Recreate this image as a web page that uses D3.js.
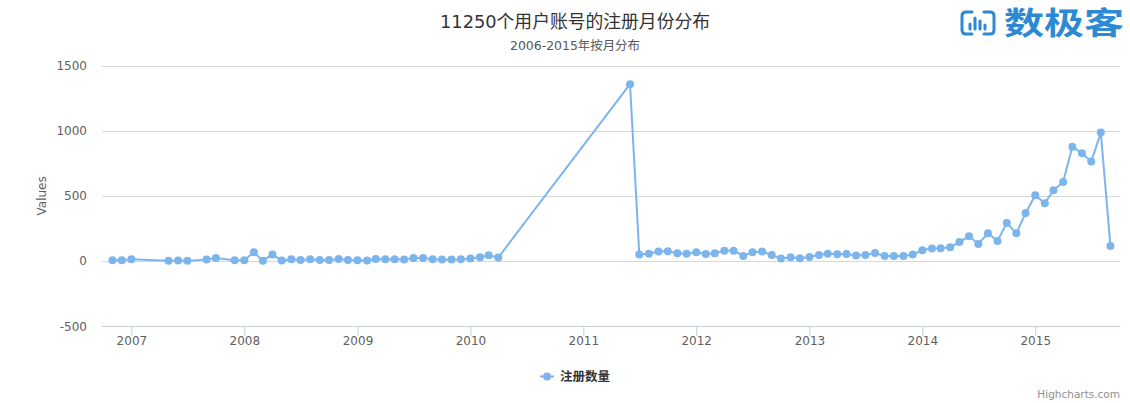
<!DOCTYPE html>
<html>
<head>
<meta charset="utf-8">
<script src="https://cdn.jsdelivr.net/npm/d3@7"></script>
<style>
  html, body { margin: 0; padding: 0; background: #fff; }
  svg { display: block; }
  text { font-family: "DejaVu Sans", "Noto Sans CJK SC", sans-serif; }
</style>
</head>
<body>
<svg id="chart" width="1130" height="403"></svg>
<script>
// ---- data ----
const months = [
  "2006-11","2006-12","2007-01","2007-05","2007-06","2007-07","2007-09","2007-10","2007-12",
  "2008-01","2008-02","2008-03","2008-04","2008-05","2008-06","2008-07","2008-08","2008-09","2008-10","2008-11","2008-12",
  "2009-01","2009-02","2009-03","2009-04","2009-05","2009-06","2009-07","2009-08","2009-09","2009-10","2009-11","2009-12",
  "2010-01","2010-02","2010-03","2010-04",
  "2011-06","2011-07","2011-08","2011-09","2011-10","2011-11","2011-12",
  "2012-01","2012-02","2012-03","2012-04","2012-05","2012-06","2012-07","2012-08","2012-09","2012-10","2012-11","2012-12",
  "2013-01","2013-02","2013-03","2013-04","2013-05","2013-06","2013-07","2013-08","2013-09","2013-10","2013-11","2013-12",
  "2014-01","2014-02","2014-03","2014-04","2014-05","2014-06","2014-07","2014-08","2014-09","2014-10","2014-11","2014-12",
  "2015-01","2015-02","2015-03","2015-04","2015-05","2015-06","2015-07","2015-08","2015-09"
];
const registrations = [
  5,5,13,2,3,2,10,23,5,
  5,67,2,49,4,13,8,13,8,8,15,8,
  5,3,15,13,13,10,23,23,13,10,10,13,
  18,28,44,26,
  1358,49,56,72,74,59,56,
  67,54,59,79,79,38,67,72,46,18,28,20,
  31,46,56,51,54,41,46,61,38,38,38,49,
  82,95,97,105,146,189,131,212,154,292,212,369,
  504,443,543,607,878,827,763,986,115
];
const yTicks = [-500, 0, 500, 1000, 1500];
const yearTicks = ["2007","2008","2009","2010","2011","2012","2013","2014","2015"];
const seriesName = "注册数量";
const titleText = "11250个用户账号的注册月份分布";
const subtitleText = "2006-2015年按月分布";
const yAxisTitle = "Values";

// ---- layout ----
const svg = d3.select("#chart");
const plot = { left: 102, right: 1120, top: 65.7, bottom: 326 };
const parse = d3.timeParse("%Y-%m");
const data = months.map((m, i) => ({ date: parse(m), value: registrations[i] }));

const x = d3.scaleTime()
  .domain([new Date(2006, 8, 28), new Date(2015, 9, 2)])
  .range([plot.left, plot.right]);
const y = d3.scaleLinear()
  .domain([-500, 1500])
  .range([plot.bottom, plot.top]);

// gridlines
svg.append("g").selectAll("line").data(yTicks).join("line")
  .attr("x1", plot.left).attr("x2", plot.right)
  .attr("y1", d => Math.round(y(d)) + 0.5).attr("y2", d => Math.round(y(d)) + 0.5)
  .attr("stroke", "#d8d8d8").attr("stroke-width", 1);

// y labels
svg.append("g").selectAll("text").data(yTicks).join("text")
  .attr("x", 87).attr("y", d => y(d) + 4.5)
  .attr("text-anchor", "end")
  .attr("font-size", 12).attr("fill", "#606060")
  .text(d => d);

svg.append("text")
  .attr("transform", `translate(46,${(plot.top + plot.bottom) / 2}) rotate(-90)`)
  .attr("text-anchor", "middle")
  .attr("font-size", 12).attr("fill", "#606060")
  .text(yAxisTitle);

// x axis
const xAxis = d3.axisBottom(x)
  .tickValues(yearTicks.map(t => d3.timeParse("%Y")(t)))
  .tickFormat(d3.timeFormat("%Y"))
  .tickSize(10).tickSizeOuter(0);
const gx = svg.append("g").attr("transform", `translate(0,${plot.bottom})`).call(xAxis);
gx.select(".domain").attr("stroke", "#c0d0e0");
gx.selectAll(".tick line").attr("stroke", "#c0d0e0");
gx.selectAll(".tick text").attr("font-size", 12).attr("fill", "#606060")
  .attr("font-family", "DejaVu Sans, sans-serif").attr("dy", null).attr("y", 19);

// line
const line = d3.line().x(d => x(d.date)).y(d => y(d.value));
svg.append("path").datum(data)
  .attr("d", line).attr("fill", "none")
  .attr("stroke", "#7cb5ec").attr("stroke-width", 2).attr("stroke-linejoin", "round");
svg.append("g").selectAll("circle").data(data).join("circle")
  .attr("cx", d => x(d.date)).attr("cy", d => y(d.value))
  .attr("r", 4).attr("fill", "#7cb5ec");

// title
svg.append("text").attr("x", 575).attr("y", 28).attr("text-anchor", "middle")
  .attr("font-size", 18).attr("fill", "#333333")
  .attr("textLength", 270).attr("lengthAdjust", "spacingAndGlyphs")
  .text(titleText);
svg.append("text").attr("x", 575).attr("y", 50).attr("text-anchor", "middle")
  .attr("font-size", 12).attr("fill", "#555555")
  .attr("textLength", 130).attr("lengthAdjust", "spacingAndGlyphs")
  .text(subtitleText);

// legend
const lg = svg.append("g");
lg.append("line").attr("x1", 540).attr("x2", 554).attr("y1", 376.5).attr("y2", 376.5)
  .attr("stroke", "#7cb5ec").attr("stroke-width", 2);
lg.append("circle").attr("cx", 547).attr("cy", 376.5).attr("r", 4).attr("fill", "#7cb5ec");
lg.append("text").attr("x", 560).attr("y", 381).attr("font-size", 12.5)
  .attr("font-weight", "bold").attr("fill", "#333333").text(seriesName);

// credits
svg.append("text").attr("x", 1120).attr("y", 398).attr("text-anchor", "end")
  .attr("font-size", 10.5).attr("fill", "#909090").text("Highcharts.com");

// logo
const logoColor = "#2b8ad3";
const logo = svg.append("g").attr("fill", "none").attr("stroke", logoColor)
  .attr("stroke-width", 3).attr("stroke-linecap", "round");
logo.append("path").attr("d", "M972,12 L966,12 Q962,12 962,16 L962,30 Q962,34 966,34 L972,34");
logo.append("path").attr("d", "M984,12 L990,12 Q994,12 994,16 L994,30 Q994,34 990,34 L984,34");
logo.append("path").attr("d", "M970,24 L970,29 M975,18 L975,29 M980,21 L980,29 M985,25 L985,29");
svg.append("text").attr("x", 1004).attr("y", 34).attr("font-size", 31)
  .attr("font-weight", "bold").attr("fill", logoColor)
  .attr("font-family", "Noto Sans CJK SC, sans-serif")
  .attr("textLength", 120).attr("lengthAdjust", "spacingAndGlyphs")
  .text("数极客");
</script>
</body>
</html>
